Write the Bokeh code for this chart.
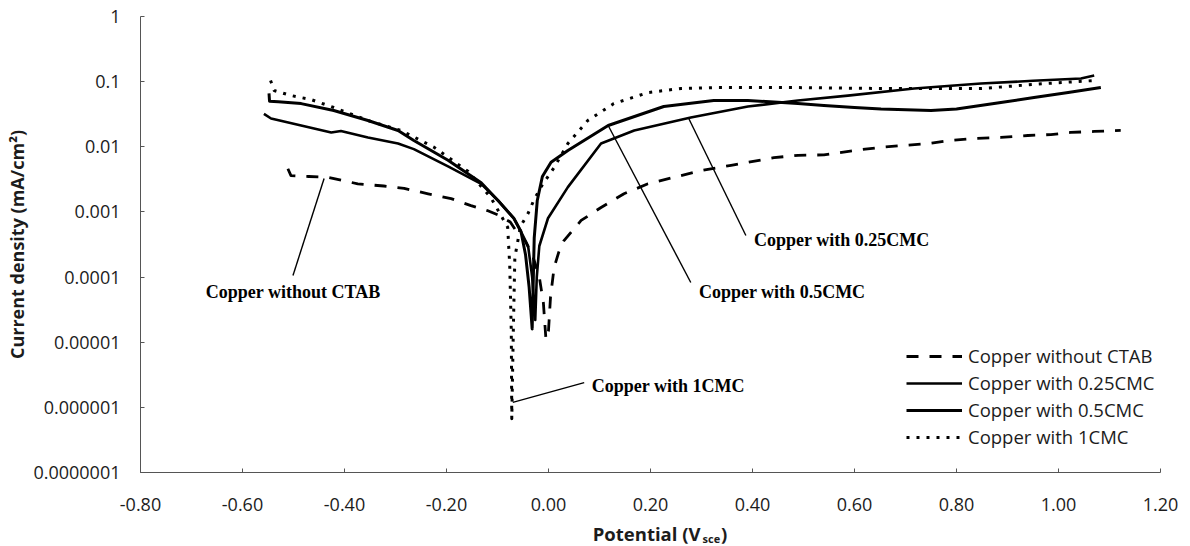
from bokeh.plotting import figure
from bokeh.layouts import column
from bokeh.models import (Range1d, FixedTicker, CustomJSTickFormatter, NumeralTickFormatter,
                          Legend, LegendItem, Label)
from bokeh.embed import file_html
from bokeh.resources import INLINE

# ---- data (potential V_sce, current density mA/cm2) ----
none_pts = [(-0.511, 0.0046), (-0.505, 0.0036), (-0.47, 0.0035), (-0.432, 0.0034), (-0.374, 0.0027),
            (-0.323, 0.0025), (-0.283, 0.0023), (-0.236, 0.0019), (-0.191, 0.0016), (-0.152, 0.00125),
            (-0.12, 0.00105), (-0.099, 0.0009), (-0.075, 0.0007), (-0.064, 0.00052), (-0.045, 0.00035),
            (-0.03, 0.0002), (-0.018, 0.0001), (-0.01, 4e-5), (-0.005, 1.1e-5), (0.0, 1.5e-5),
            (0.004, 5e-5), (0.011, 0.00014), (0.02, 0.00024), (0.03, 0.00036), (0.064, 0.00074),
            (0.103, 0.00117), (0.148, 0.0019), (0.195, 0.0027), (0.246, 0.0034), (0.299, 0.0043),
            (0.358, 0.0052), (0.442, 0.0068), (0.489, 0.0074), (0.54, 0.0075), (0.6, 0.0088),
            (0.652, 0.0098), (0.697, 0.0105), (0.744, 0.0112), (0.789, 0.0125), (0.834, 0.0134),
            (0.887, 0.0139), (0.94, 0.0149), (0.985, 0.0154), (1.024, 0.0166), (1.07, 0.0172),
            (1.122, 0.0178)]

cmc025_pts = [(-0.558, 0.032), (-0.544, 0.0272), (-0.485, 0.0212), (-0.426, 0.0166), (-0.407, 0.0175),
              (-0.354, 0.0139), (-0.295, 0.0112), (-0.264, 0.0092), (-0.197, 0.005), (-0.132, 0.0027),
              (-0.099, 0.0015), (-0.068, 0.0008), (-0.054, 0.0005), (-0.040, 0.0003), (-0.032, 0.0001),
              (-0.026, 2.2e-5), (-0.023, 0.0001), (-0.018, 0.0003), (-0.001, 0.0008), (0.038, 0.0024),
              (0.103, 0.0112), (0.168, 0.0178), (0.279, 0.0281), (0.391, 0.0415), (0.489, 0.0513),
              (0.587, 0.061), (0.717, 0.0785), (0.848, 0.0936), (0.95, 0.103), (1.044, 0.112),
              (1.07, 0.124)]

cmc05_pts = [(-0.548, 0.066), (-0.547, 0.05), (-0.53, 0.049), (-0.485, 0.046), (-0.421, 0.036),
             (-0.354, 0.0253), (-0.295, 0.0178), (-0.264, 0.0125), (-0.197, 0.0062), (-0.132, 0.0028),
             (-0.099, 0.0015), (-0.068, 0.0008), (-0.054, 0.0005), (-0.045, 0.00022), (-0.038, 7e-5),
             (-0.032, 1.6e-5), (-0.030, 8e-5), (-0.028, 0.0004), (-0.022, 0.0015), (-0.012, 0.0035),
             (0.005, 0.0058), (0.038, 0.0088), (0.117, 0.0212), (0.226, 0.0415), (0.324, 0.0513),
             (0.391, 0.0513), (0.489, 0.0462), (0.54, 0.043), (0.60, 0.040), (0.652, 0.038),
             (0.75, 0.036), (0.80, 0.038), (0.887, 0.048), (0.952, 0.057), (1.019, 0.068),
             (1.083, 0.081)]

cmc1_pts = [(-0.545, 0.104), (-0.538, 0.0731), (-0.505, 0.0612), (-0.466, 0.0532), (-0.421, 0.0401),
            (-0.354, 0.0253), (-0.289, 0.0178), (-0.224, 0.0098), (-0.158, 0.0042), (-0.113, 0.00166),
            (-0.080, 0.00058), (-0.076, 0.00015), (-0.073, 1.5e-5), (-0.072, 6.7e-7), (-0.069, 1.5e-5),
            (-0.066, 0.0002), (-0.055, 0.0006), (-0.040, 0.00095), (-0.029, 0.0015), (-0.015, 0.0024),
            (0.011, 0.0048), (0.038, 0.0112), (0.077, 0.0253), (0.128, 0.046), (0.195, 0.068),
            (0.26, 0.0785), (0.324, 0.081), (0.49, 0.081), (0.652, 0.0785), (0.848, 0.0785),
            (0.979, 0.094), (1.07, 0.104)]

series_names = ["Copper without CTAB", "Copper with 0.25CMC", "Copper with 0.5CMC", "Copper with 1CMC"]
x_ticks = [-0.8, -0.6, -0.4, -0.2, 0.0, 0.2, 0.4, 0.6, 0.8, 1.0, 1.2]
y_ticks = [1e-7, 1e-6, 1e-5, 1e-4, 1e-3, 1e-2, 1e-1, 1.0]
x_title = ["Potential (V", "sce", ")"]

# callouts: text, text anchor (V, mA/cm2), leader line from -> to
callout_text = ["Copper without CTAB", "Copper with 0.25CMC", "Copper with 0.5CMC", "Copper with 1CMC"]
callout_anchor = [(-0.672, 5.8e-5), (0.403, 3.77e-4), (0.295, 5.8e-5), (0.085, 2.16e-6)]
callout_leader = [((-0.501, 1.06e-4), (-0.440, 3.26e-3)),
                  ((0.387, 4.35e-4), (0.275, 0.0272)),
                  ((0.279, 8.26e-5), (0.117, 0.0212)),
                  ((-0.070, 1.19e-6), (0.070, 2.4e-6))]

TXT = "#1c1c1c"
W = 1190

p = figure(width=W, height=520, x_range=Range1d(-0.8, 1.2), y_range=Range1d(1e-7, 1),
           y_axis_type="log", output_backend="svg", toolbar_location=None,
           min_border_left=140, min_border_right=30, min_border_top=16, min_border_bottom=48)
p.outline_line_color = None
p.xgrid.visible = False
p.ygrid.visible = False
p.background_fill_color = "white"


def unzip(pts):
    return [a for a, b in pts], [b for a, b in pts]


styles = [dict(line_width=2.8, line_dash="12 11"),
          dict(line_width=2.6),
          dict(line_width=3.0),
          dict(line_width=3.0, line_dash="3 7")]
renderers = []
for pts, st in zip([none_pts, cmc025_pts, cmc05_pts, cmc1_pts], styles):
    xs, ys = unzip(pts)
    r = p.line(xs, ys, line_color="black", line_join="round", **st)
    renderers.append(r)

# callouts
for txt, (ax, ay), ((x0, y0), (x1, y1)) in zip(callout_text, callout_anchor, callout_leader):
    p.segment(x0=[x0], y0=[y0], x1=[x1], y1=[y1], line_color="black", line_width=1.4)
    p.add_layout(Label(x=ax, y=ay, text=txt, text_font="Liberation Serif", text_font_style="bold",
                       text_font_size="18px", text_color="black", text_baseline="middle",
                       text_align="left"))

# axes
for ax in (p.xaxis[0], p.yaxis[0]):
    ax.axis_line_color = "#555555"
    ax.axis_line_width = 1
    ax.major_tick_line_color = "#555555"
    ax.major_tick_in = 4
    ax.major_tick_out = 0
    ax.minor_tick_line_color = None
    ax.major_label_text_font = "Open Sans"
    ax.major_label_text_font_size = "18px"
    ax.major_label_text_color = TXT

p.xaxis.ticker = FixedTicker(ticks=x_ticks)
p.xaxis.formatter = NumeralTickFormatter(format="0.00")
p.xaxis.major_label_standoff = 25

p.yaxis.ticker = FixedTicker(ticks=y_ticks)
p.yaxis.formatter = CustomJSTickFormatter(
    code="if (tick >= 1) { return '1'; } return tick.toFixed(Math.round(-Math.log10(tick)));")
p.yaxis.major_label_standoff = 20
p.yaxis.axis_label = "Current density (mA/cm\u00b2)"
p.yaxis.axis_label_text_font = "Open Sans"
p.yaxis.axis_label_text_font_style = "bold"
p.yaxis.axis_label_text_font_size = "18px"
p.yaxis.axis_label_text_color = TXT
p.yaxis.axis_label_standoff = 1

legend = Legend(items=[LegendItem(label=n, renderers=[r]) for n, r in zip(series_names, renderers)],
                location=(766, 23), orientation="vertical", padding=0, margin=0, spacing=2,
                glyph_width=56, glyph_height=20, label_height=20, label_standoff=6,
                label_text_font="Open Sans", label_text_font_size="18.5px", label_text_color=TXT,
                background_fill_alpha=0, border_line_alpha=0)
p.add_layout(legend)

# x-axis title strip (with subscript): an axis-less figure sharing the potential scale
t = figure(width=W, height=26, x_range=p.x_range, y_range=Range1d(0, 26),
           output_backend="svg", toolbar_location=None, x_axis_location=None, y_axis_location=None,
           min_border=0, min_border_left=140, min_border_right=30, min_border_top=0, min_border_bottom=0)
t.outline_line_color = None
t.xgrid.visible = False
t.ygrid.visible = False
t.add_layout(Label(x=0.298, y=13, text=x_title[0], text_font="Open Sans", text_font_style="bold",
                   text_font_size="18.5px", text_color=TXT, text_align="right", text_baseline="middle"))
t.add_layout(Label(x=0.302, y=8, text=x_title[1], text_font="Open Sans", text_font_style="bold",
                   text_font_size="11px", text_color=TXT, text_align="left", text_baseline="middle"))
t.add_layout(Label(x=0.338, y=13, text=x_title[2], text_font="Open Sans", text_font_style="bold",
                   text_font_size="18.5px", text_color=TXT, text_align="left", text_baseline="middle"))

layout = column(p, t, spacing=0)
open("out.html", "w").write(file_html(layout, INLINE))
